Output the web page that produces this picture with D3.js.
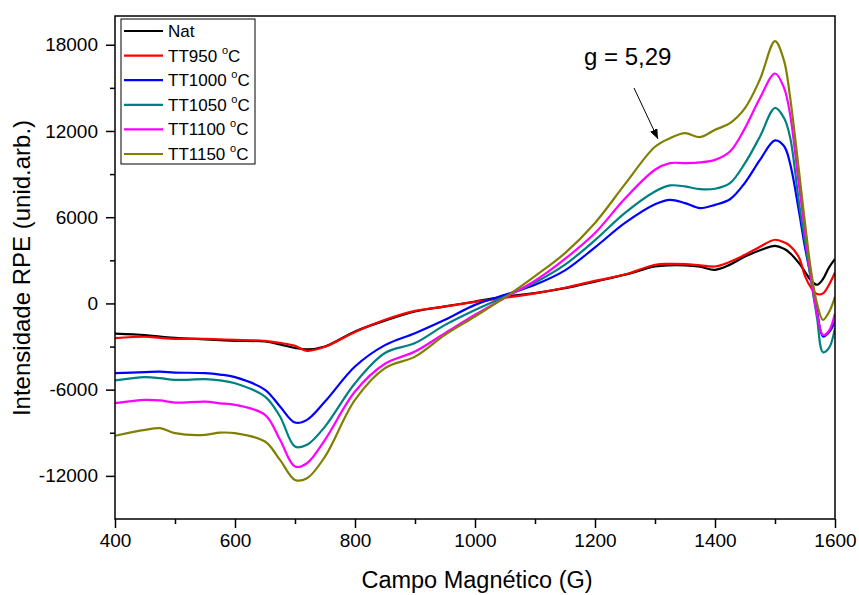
<!DOCTYPE html>
<html>
<head>
<meta charset="utf-8">
<script src="https://cdn.jsdelivr.net/npm/d3@7"></script>
<style>
  body { margin: 0; background: #fff; }
  text { font-family: "Liberation Sans", Arial, sans-serif; fill: #000; }
</style>
</head>
<body>
<div class="chart"></div>
<script>
// campo magnetico (G)
var field = [400,450,475,500,550,575,600,650,675,700,720,750,800,850,900,950,1000,1050,1100,1150,1200,1250,1300,1325,1350,1375,1400,1425,1450,1475,1500,1515,1525,1540,1550,1560,1570,1580,1590,1600];

var nat =    [-2100,-2200,-2300,-2400,-2500,-2550,-2600,-2650,-2850,-3100,-3200,-3000,-1950,-1200,-560,-210,130,480,720,1060,1520,2000,2570,2650,2640,2550,2340,2700,3260,3700,4010,3800,3500,2800,2200,1600,1300,1700,2500,3100];
var tt950 =  [-2420,-2320,-2400,-2460,-2460,-2500,-2530,-2600,-2750,-2950,-3300,-3020,-1980,-1140,-520,-220,110,390,700,1090,1570,2010,2690,2750,2740,2650,2570,2900,3380,3950,4430,4250,4010,3200,1900,1100,650,700,1300,2150];
var tt1000 = [-4850,-4780,-4750,-4810,-4850,-4950,-5130,-6010,-7170,-8290,-8100,-6830,-4390,-2900,-2070,-1140,-100,600,1300,2300,3900,5600,6900,7210,6980,6630,6860,7250,8400,9990,11340,10950,9760,6400,3900,1800,-500,-2300,-2000,-1260];
var tt1050 = [-5360,-5130,-5200,-5320,-5270,-5350,-5550,-6480,-7870,-9960,-9840,-8570,-5550,-3450,-2760,-1490,-450,480,1450,2700,4400,6300,7790,8210,8140,7950,7980,8370,9760,11620,13600,12900,11600,7000,4300,1600,-1000,-3400,-3100,-1700];
var tt1100 = [-6940,-6710,-6750,-6900,-6830,-6950,-7060,-7750,-9490,-11350,-11120,-9490,-6130,-4200,-3350,-2070,-790,400,1580,3100,4900,7300,9300,9760,9760,9810,9990,10570,12200,14300,16000,15000,13200,8200,5000,1800,-700,-2200,-1900,-680];
var tt1150 = [-9210,-8800,-8680,-9030,-9150,-8990,-9030,-9610,-10890,-12280,-12160,-10660,-6710,-4500,-3700,-2190,-910,420,1900,3500,5600,8300,10900,11500,11850,11570,12080,12550,13590,15600,18250,16900,14400,9200,5600,2300,0,-1140,-600,480];

var seriesNames = ["Nat", "TT950", "TT1000", "TT1050", "TT1100", "TT1150"];
var seriesValues = [nat, tt950, tt1000, tt1050, tt1100, tt1150];
var seriesColors = ["#000000", "#ff0000", "#0000ff", "#008080", "#ff00ff", "#808000"];

var xTicks = [400, 600, 800, 1000, 1200, 1400, 1600];
var xMinor = [500, 700, 900, 1100, 1300, 1500];
var yTicks = [-12000, -6000, 0, 6000, 12000, 18000];
var yMinor = [-9000, -3000, 3000, 9000, 15000];

var width = 859,
    height = 595,
    plotL = 115, plotR = 835, plotT = 16, plotB = 519;

var x = d3.scaleLinear().domain([400, 1600]).range([plotL, plotR]);
var y = d3.scaleLinear().domain([-15000, 20000]).range([plotB, plotT]);

var svg = d3.select(".chart").append("svg")
    .attr("width", width)
    .attr("height", height);

var plainNum = function(d) { return String(d); };

// ticks
svg.append("g").attr("transform", "translate(0," + plotB + ")")
    .call(d3.axisBottom(x).tickValues(xTicks).tickSizeInner(9).tickSizeOuter(0).tickPadding(6).tickFormat(plainNum));
svg.append("g").attr("transform", "translate(0," + plotB + ")")
    .call(d3.axisBottom(x).tickValues(xMinor).tickSizeInner(5).tickSizeOuter(0).tickFormat(""));
svg.append("g").attr("transform", "translate(" + plotL + ",0)")
    .call(d3.axisLeft(y).tickValues(yTicks).tickSizeInner(9).tickSizeOuter(0).tickPadding(8).tickFormat(plainNum));
svg.append("g").attr("transform", "translate(" + plotL + ",0)")
    .call(d3.axisLeft(y).tickValues(yMinor).tickSizeInner(5).tickSizeOuter(0).tickFormat(""));

svg.selectAll(".domain").remove();
svg.selectAll(".tick line").attr("stroke", "#000").attr("stroke-width", 1.5);
svg.selectAll(".tick text")
    .style("font-family", '"Liberation Sans", Arial, sans-serif')
    .style("font-size", "19px")
    .attr("fill", "#000");

// curves
svg.append("defs").append("clipPath").attr("id", "plotclip")
    .append("rect").attr("x", plotL).attr("y", plotT).attr("width", plotR - plotL).attr("height", plotB - plotT);

var line = d3.line()
    .x(function(d) { return x(d[0]); })
    .y(function(d) { return y(d[1]); })
    .curve(d3.curveCatmullRom.alpha(0.5));

var plot = svg.append("g").attr("clip-path", "url(#plotclip)");
seriesValues.forEach(function(vals, i) {
    plot.append("path")
        .datum(field.map(function(f, j) { return [f, vals[j]]; }))
        .attr("fill", "none")
        .attr("stroke", seriesColors[i])
        .attr("stroke-width", 2.2)
        .attr("stroke-linejoin", "round")
        .attr("d", line);
});

// frame
svg.append("rect")
    .attr("x", plotL).attr("y", plotT)
    .attr("width", plotR - plotL).attr("height", plotB - plotT)
    .attr("fill", "none").attr("stroke", "#000").attr("stroke-width", 1.5);

// legend
var lg = svg.append("g").attr("class", "legend");
lg.append("rect")
    .attr("x", 121).attr("y", 19).attr("width", 134).attr("height", 145)
    .attr("fill", "#fff").attr("stroke", "#000").attr("stroke-width", 1);
seriesNames.forEach(function(name, i) {
    var yy = 31 + i * 24.6;
    lg.append("line")
        .attr("x1", 124).attr("x2", 163).attr("y1", yy).attr("y2", yy)
        .attr("stroke", seriesColors[i]).attr("stroke-width", 2.2);
    var t = lg.append("text")
        .attr("x", 168).attr("y", yy + 6)
        .style("font-size", "17px");
    t.append("tspan").text(name);
    if (i > 0) {
        t.append("tspan").text(" ");
        t.append("tspan").attr("dy", -8).style("font-size", "11px").text("o");
        t.append("tspan").attr("dy", 8).text("C");
    }
});

// annotation
svg.append("defs").append("marker")
    .attr("id", "arrow")
    .attr("viewBox", "0 -4 10 8")
    .attr("refX", 10).attr("refY", 0)
    .attr("markerWidth", 10).attr("markerHeight", 8)
    .attr("markerUnits", "userSpaceOnUse")
    .attr("orient", "auto")
    .append("path").attr("d", "M0,-4L10,0L0,4Z").attr("fill", "#000");

svg.append("line")
    .attr("x1", 634).attr("y1", 88).attr("x2", 658).attr("y2", 139)
    .attr("stroke", "#000").attr("stroke-width", 1)
    .attr("marker-end", "url(#arrow)");

svg.append("text")
    .attr("x", 584).attr("y", 65)
    .style("font-size", "24px")
    .text("g = 5,29");

// axis titles
svg.append("text")
    .attr("x", (plotL + plotR) / 2 + 2).attr("y", 588)
    .attr("text-anchor", "middle")
    .style("font-size", "23.5px")
    .text("Campo Magnético (G)");

svg.append("text")
    .attr("transform", "translate(30,268) rotate(-90)")
    .attr("text-anchor", "middle")
    .style("font-size", "24px")
    .text("Intensidade RPE (unid.arb.)");
</script>
</body>
</html>
